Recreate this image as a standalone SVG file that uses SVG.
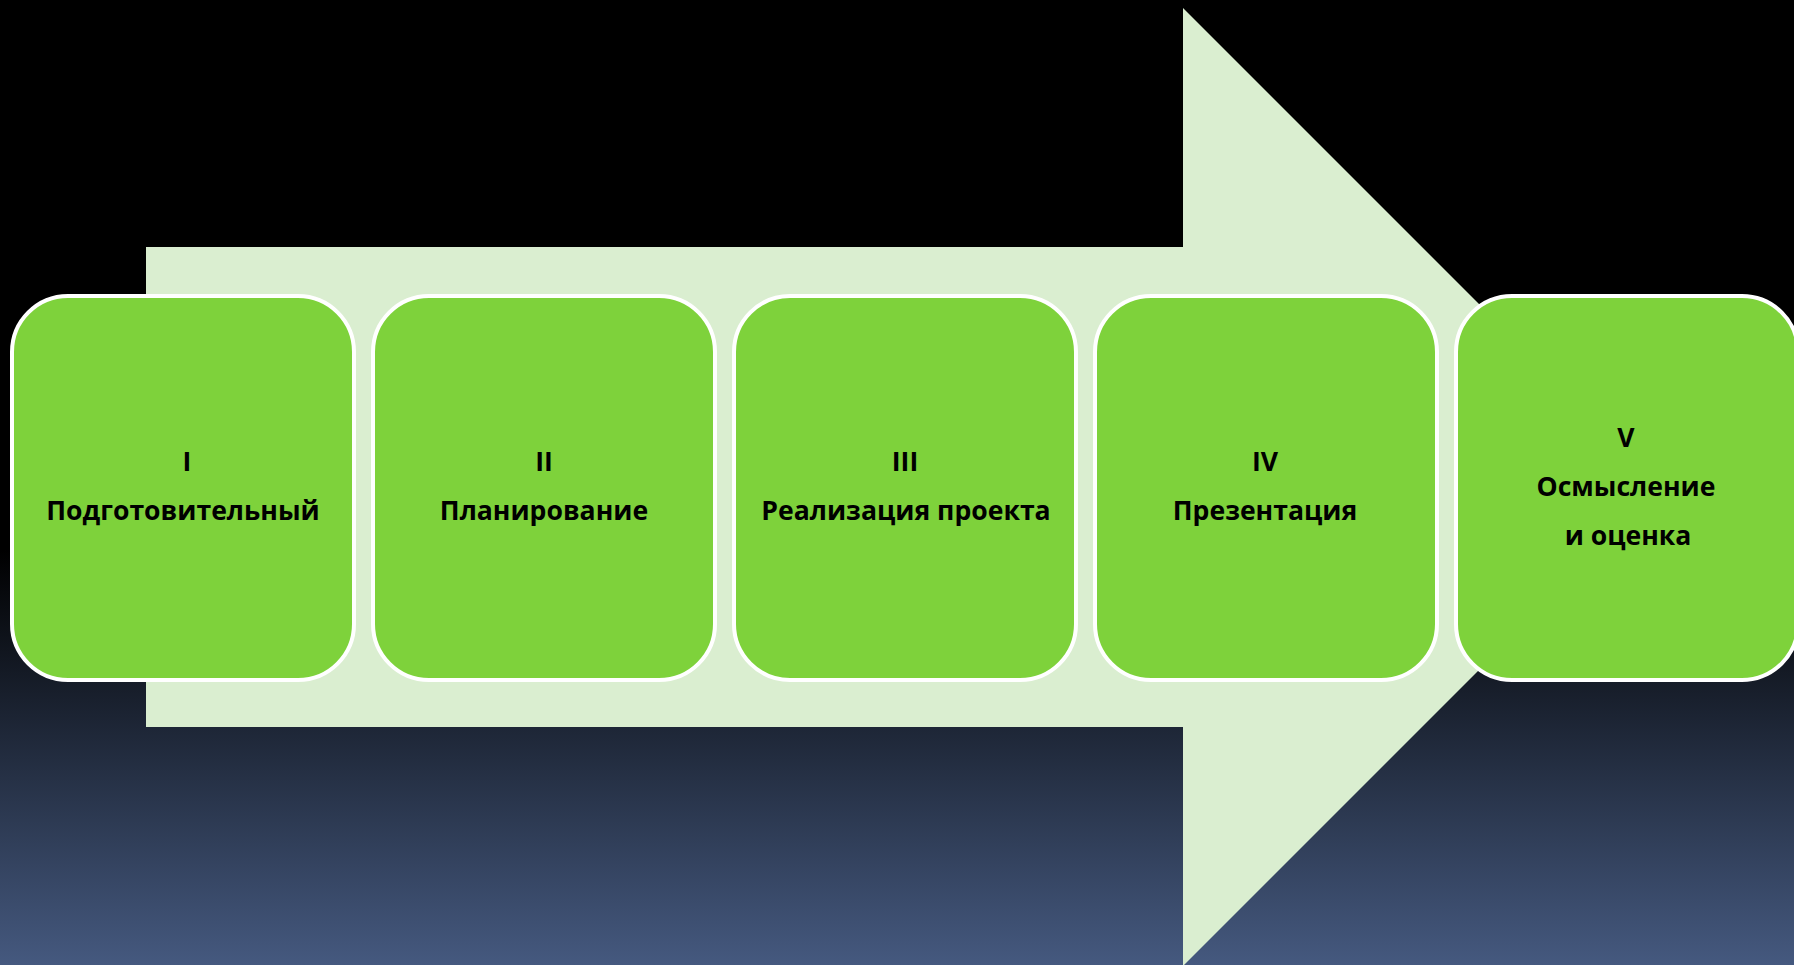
<svg xmlns="http://www.w3.org/2000/svg" width="1794" height="965" viewBox="0 0 1794 965">
<defs>
<linearGradient id="bg" x1="0" y1="0" x2="0" y2="965" gradientUnits="userSpaceOnUse">
<stop offset="0" stop-color="#000000"/>
<stop offset="0.57" stop-color="#000000"/>
<stop offset="1" stop-color="#45597f"/>
</linearGradient>
<style>
.box{fill:#7ed23b;stroke:#ffffff;stroke-width:4}
.t{font-family:"Open Sans","Noto Sans","DejaVu Sans",sans-serif;font-weight:bold;font-size:26.6px;fill:#000;text-anchor:middle}
</style>
</defs>
<rect x="0" y="0" width="1794" height="965" fill="url(#bg)"/>
<g id="arrow">
<polygon points="146,247 1183,247 1183,8 1662,487 1183,966 1183,727 146,727" fill="#daeed0"/>
</g>
<g id="connectors"></g>
<g id="node1">
<rect class="box" x="12" y="296" width="342" height="384" rx="56" ry="56"/>
<text class="t" x="187" y="471">I</text>
<text class="t" x="183" y="520">Подготовительный</text>
</g>
<g id="node2">
<rect class="box" x="373" y="296" width="342" height="384" rx="56" ry="56"/>
<text class="t" x="544" y="471">II</text>
<text class="t" x="544" y="520">Планирование</text>
</g>
<g id="node3">
<rect class="box" x="734" y="296" width="342" height="384" rx="56" ry="56"/>
<text class="t" x="905" y="471">III</text>
<text class="t" x="906" y="520">Реализация проекта</text>
</g>
<g id="node4">
<rect class="box" x="1095" y="296" width="342" height="384" rx="56" ry="56"/>
<text class="t" x="1265" y="471">IV</text>
<text class="t" x="1265" y="520">Презентация</text>
</g>
<g id="node5">
<rect class="box" x="1456" y="296" width="342" height="384" rx="56" ry="56"/>
<text class="t" x="1626" y="447">V</text>
<text class="t" x="1626" y="496">Осмысление</text>
<text class="t" x="1628" y="545">и оценка</text>
</g>
</svg>
